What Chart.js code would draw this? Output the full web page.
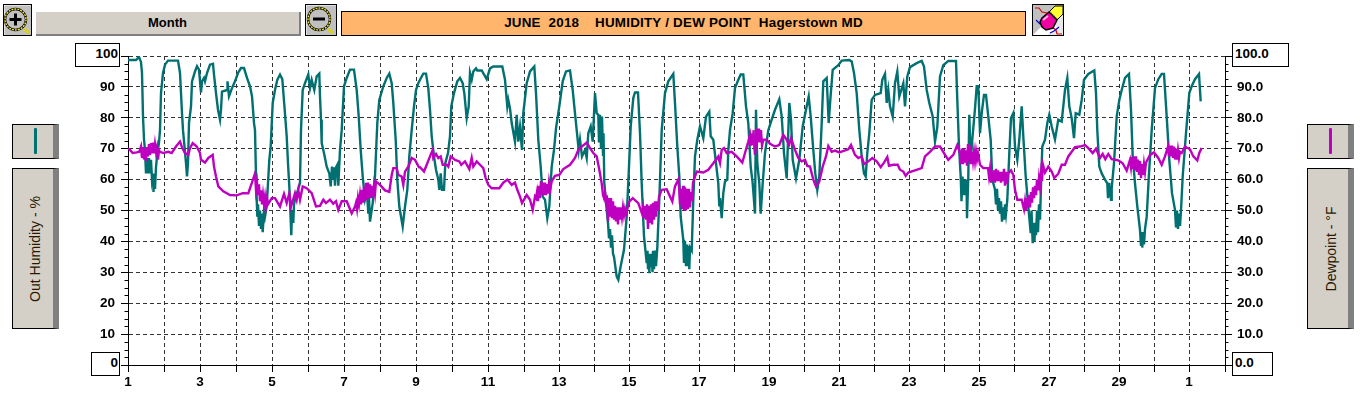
<!DOCTYPE html>
<html>
<head>
<meta charset="utf-8">
<script src="https://cdn.jsdelivr.net/npm/chart.js@4"></script>
<style>
html,body{margin:0;padding:0;background:#fff;overflow:hidden}
#wrap{position:relative;width:1365px;height:395px;font-family:"Liberation Sans",Arial,sans-serif}
canvas{position:absolute;left:0;top:0}
.box{position:absolute;box-sizing:border-box;border:1px solid #000;background:#fff;font-weight:bold;font-size:13.5px;line-height:20px;color:#000}
.btn{position:absolute;box-sizing:border-box;border:1px solid #000;background:#d4d0c8;border-right:6px solid #808080}
.bar{position:absolute;box-sizing:border-box;background:#d4d0c8;border-right:2px solid #808080;border-bottom:2px solid #808080;text-align:center;font-weight:bold;font-size:13px;line-height:22px}
.title{position:absolute;box-sizing:border-box;border:1px solid #000;background:#ffb56b;text-align:center;font-weight:bold;font-size:13.4px;letter-spacing:.22px;line-height:22px;white-space:pre}
.rot{position:absolute;font-size:14px;color:#2a1800;white-space:nowrap;transform:translate(-50%,-50%) rotate(-90deg)}
.swatch{position:absolute;width:3px;border-radius:1px}
svg.icon{position:absolute;box-sizing:border-box;border:1px solid #000;background:#c0c0c0}
</style>
</head>
<body>
<div id="wrap">
<canvas id="c" width="1365" height="395"></canvas>

<svg class="icon" style="left:3px;top:4px" width="29" height="32" viewBox="0 0 27 30">
<path d="M0 0H27M0 0V30" stroke="#fff" stroke-width="1"/>
<line x1="20" y1="24" x2="25" y2="28" stroke="#d8d020" stroke-width="3.5"/>
<circle cx="11.5" cy="14.5" r="10.5" fill="#c0c0c0" stroke="#000" stroke-width="2.4"/>
<circle cx="11.5" cy="14.5" r="10.5" fill="none" stroke="#f0e820" stroke-width="1.4" stroke-dasharray="2 1"/>
<path d="M5.5 14.5H17.5M11.5 8.5V20.5" stroke="#000" stroke-width="3"/>
</svg>
<div class="bar" style="left:36px;top:12px;width:265px;height:24px">Month</div>
<svg class="icon" style="left:305px;top:4px" width="32" height="32" viewBox="0 0 30 30">
<path d="M0 0H30M0 0V30" stroke="#fff" stroke-width="1"/>
<line x1="22" y1="24" x2="27" y2="28" stroke="#d8d020" stroke-width="3.5"/>
<circle cx="13" cy="14" r="11" fill="#c0c0c0" stroke="#000" stroke-width="2.4"/>
<circle cx="13" cy="14" r="11" fill="none" stroke="#f0e820" stroke-width="1.4" stroke-dasharray="2 1"/>
<path d="M7 14H19" stroke="#000" stroke-width="3"/>
</svg>
<div class="title" style="left:341px;top:11px;width:685px;height:25px">JUNE  2018    HUMIDITY / DEW POINT  Hagerstown MD</div>
<svg class="icon" style="left:1032px;top:4px" width="32" height="32" viewBox="0 0 30 30">
<path d="M0 30L30 0V30Z" fill="#e8e8e8"/>
<path d="M0 30L16 14L24 22L14 30Z" fill="#fff"/>
<path d="M2 3H6L9 7L14 8M18 21L23 25L24 29L29 29" stroke="#e00000" stroke-width="1.2" fill="none"/>
<path d="M3 15L7 19H10M17 28L21 26L26 22" stroke="#0000e0" stroke-width="1.2" fill="none"/>
<path d="M15 8L22 1L30 1L30 9L23 16Z" fill="#ffff30" stroke="#000" stroke-width="1"/>
<path d="M16 7L24 15" stroke="#909090" stroke-width="3" stroke-dasharray="1 1"/>
<path d="M9 13L16 7L24 15L20 23L13 25L9 22L7 17Z" fill="#f000a0" stroke="#000" stroke-width="1.5"/>
<path d="M10 15L15 11" stroke="#ffb0e0" stroke-width="2"/>
</svg>

<div class="box" style="left:75px;top:43px;width:45px;height:24px;text-align:right;padding-right:1px">100</div>
<div class="box" style="left:91px;top:352px;width:29px;height:24px;text-align:right;padding-right:1px">0</div>
<div class="box" style="left:1232px;top:43px;width:57px;height:24px;padding-left:2px">100.0</div>
<div class="box" style="left:1232px;top:352px;width:41px;height:24px;padding-left:2px">0.0</div>

<div class="btn" style="left:12px;top:124px;width:47px;height:35px"></div>
<div class="swatch" style="left:34px;top:128px;height:26px;background:#007070"></div>
<div class="btn" style="left:12px;top:168px;width:47px;height:161px"></div>
<div class="rot" style="left:35px;top:249px">Out Humidity - %</div>

<div class="btn" style="left:1307px;top:124px;width:47px;height:35px"></div>
<div class="swatch" style="left:1329px;top:128px;height:26px;background:#c000c0"></div>
<div class="btn" style="left:1307px;top:168px;width:47px;height:161px"></div>
<div class="rot" style="left:1331px;top:249px">Dewpoint - °F</div>
</div>

<script>
// x is the logger's record number; days do not span an equal number of records
const dayStartRecords = [0,36,72,108,144,180,216,252,288,324,360,396,431,466,501,536,571,606,641,676,711,746,781,816,851,886,921,956,991,1026,1061,1097];
const dayLabels = ['1','','3','','5','','7','','9','','11','','13','','15','','17','','19','','21','','23','','25','','27','','29','','1',''];
const humidityTicks = [0,10,20,30,40,50,60,70,80,90,100];
const minorTicks = [2.5,5,7.5,12.5,15,17.5,22.5,25,27.5,32.5,35,37.5,42.5,45,47.5,52.5,55,57.5,62.5,65,67.5,72.5,75,77.5,82.5,85,87.5,92.5,95,97.5];

const humidityA = [[0,98.7],[8,98.7],[11,99.7],[13,98],[14,94.5],[15,80.5],[16,73],[17,69.6],[18,62],[19,67],[20,62],[21,67],[22,62],[23,66.4],[24,60],[25,62],[25.5,56],[26,61],[27,57],[28,64],[29,67.5],[31,72],[32,76],[33,88],[35,94.5],[37,97.2],[40,98.5],[50,98.5],[52,94.5],[53,88],[54,81.5],[55,76],[58,65.3],[59,61],[60,65.3],[61,78.3],[63,83.7],[64,91.8],[67,95],[69,96.7],[71,95.6],[72,91.8],[73,88.2],[74,91.8],[76,92.9],[77,91.8],[79,94.5],[82,97.2],[85,97.5],[86,94],[88,88],[90,82.6],[92,79.4],[93,82.6],[94,88.5],[99,89],[99.5,91.8],[101,87],[104,89.6],[107,91.8],[110,94.5],[113,96.1],[116,96.1],[119,92.9],[122,90.2],[124,87],[126,78.3],[127,76],[128,61],[129.3,48],[130,52],[131,45],[132,50],[133,44],[134,49],[134.7,43],[136,50],[137,48],[138.7,51.3],[141.3,66.4],[142.7,70.7],[144.7,84.8],[147,89],[149.3,92.3],[152,94],[154.3,92.5],[156.7,82.6],[158.7,74],[160,65.3],[161.3,57.8],[162.7,47],[163.3,42],[164,50],[165.3,46],[166,52],[167,53.5],[172,58.9],[173,76],[174.7,89],[177,91.2],[180.3,94],[182,89.6],[183.7,92.3],[186.3,89],[188.7,93.4],[191.3,94.3],[192,87],[193,79.4],[193.7,71.8],[196,68.6],[198.7,64.2],[201.3,62],[202.7,57.8],[204,64.2],[205,60],[206,64],[207,58],[208,64],[209.3,64.8],[210.3,58],[212,69.6],[213.7,76],[216,90.2],[218.7,92.9],[222,95.6],[226,95.6],[228.7,89],[230.7,80.5],[232.7,69.6],[234.7,61],[237,53.5],[239,56],[240.3,49],[241,54],[242,46.4],[244.7,52.4],[247,61],[249.3,78.3],[251.3,85.8],[255.3,90.2],[258.7,92.9],[261.3,94.3],[263.7,91.2],[265.3,84.8],[267.7,72.9],[269.3,60],[271.3,51.3],[274.7,44.8],[277,51.3],[279.3,56.7],[281.3,67.5],[283.7,76],[286,83.7],[288,89],[290.3,91.2]];
const humidityB = [[292,92.3],[295.3,94.3],[298,94.3],[300.3,89.6],[302,82.6],[303.7,74],[306,67.5],[308,63.2],[310.3,60],[311.3,56.7],[312.7,62],[314,56.7],[316,56.7],[317.3,65.3],[320,68.6],[322,74],[323.3,83.7],[326,88],[329.3,91.8],[332,92.9],[334.7,91.2],[336.3,88],[338.7,79.9],[340.7,83.7],[342,94.5],[343.7,92.3],[345.3,95],[348,96],[349.3,95.3],[353.7,95.3],[358.7,92.5],[362,96],[365.3,96.6],[374.3,96.6],[377,92.3],[379.3,83.7],[380.3,85.8],[382,83],[383.7,78.3],[387,72.3],[388.7,81],[390.3,72.3],[392,77],[394,69.6],[395.3,81.5],[398.7,91.2],[402,95],[406.3,96.6],[408,88],[410.3,72.9],[412.7,64.2],[414.7,54.5],[417,53.5],[419.3,47.5],[421.3,51.3],[423.7,64.2],[426,69.6],[428,76.6],[431.3,83.7],[434.7,91.8],[438,95],[442,95.3],[444.7,89],[446.3,83.7],[448.7,76],[450.7,69.6],[452,72.9],[454,67.5],[457,69.6],[458.7,67],[460.3,75],[462.7,77.2],[464.7,72.3],[467,88],[468.7,81.5],[470.3,81],[471,72],[472,81],[473,70],[474,80.4],[475,68],[475.5,75],[476.3,58.8],[478,52.4],[480,46],[481,41],[482,44],[483,38],[484,42],[485,36],[486,35],[488.7,28.6],[490.3,27.6],[492.7,32],[496,37.3],[498.7,48],[500.7,62],[502.7,77.2],[505.3,86.4],[507,88.2],[510,88.2],[512,75],[513.7,58.8],[516,41.6],[518.7,33],[519.5,37],[520,31],[521,36],[521.3,29.7],[522,36],[523,32],[523.7,36],[524.5,30],[525,37],[526,31],[527,37],[528,32],[529.3,38],[531.3,53.5],[533.7,76],[537,88],[540.3,91.8],[545.3,94.2],[547,84.7],[549.3,70.7],[551.3,61],[552.7,48],[555.3,40.5],[556,33],[557,40],[558,32],[559,39],[560,32],[561,38.5],[561.3,31],[562,38],[563.7,37],[565.3,53.5],[567,67.5],[569.3,72.9],[572,77.2],[575.3,73.4],[578,80.4],[581.3,82],[582.7,74],[585.3,72.9],[588,65.3],[590.3,58.8],[591.3,51.3]];
const humidityC = [[592,54],[593.7,47.5],[595.3,55.6],[597,59.4],[599.3,60],[600.3,69.6],[602,76],[604.7,81.5],[607,89.6],[610.3,92.3],[612.7,94],[615.3,94],[618,83.7],[620.3,78.3],[622.7,64.2],[624.7,58.8],[627,49],[628,82.6],[629.3,65.3],[631.3,58.8],[632.7,49],[634.7,58.8],[637,68.6],[640.3,76],[643.7,79.4],[647,82.6],[651.3,86],[653.7,80.5],[656,68.6],[658.7,60.4],[661.3,84.8],[663,79.4],[664.7,66.4],[668,60.4],[671.3,66.4],[674.7,77.2],[678,82.6],[680.7,86.9],[682.7,80.4],[685.3,69.6],[687.3,62],[689.3,56.7],[691.3,61],[693.7,78.3],[695.3,91.8],[698.7,92.9],[700.7,78.3],[702.3,85.8],[704.7,95.5],[710.3,97],[713.7,98.5],[721.3,98.7],[723.7,98.2],[726,94.5],[728.7,88],[731.3,76],[733.7,67.5],[736,62],[737.7,61],[739.3,68.6],[741.3,75],[743.7,85.8],[747,87.4],[752.7,88],[754.3,92.3],[757,94.2],[758.7,84.8],[760.3,89],[762,83.7],[764.7,80.4],[767,91.2],[769.3,95],[771.3,86.9],[775.3,91.2],[777,83.7],[779.3,93.4],[782,96.4],[788.7,97.7],[793.7,98.4],[796,96.6],[798.7,89],[801.3,84.8],[804.7,80.4],[807,72.3],[809.3,77],[812,93.4],[815.3,97],[820.3,98.4],[828,98.4],[829.3,85.8],[831,70.7],[832.7,61],[833.5,53],[834.5,61],[835.5,55],[836.5,60],[837.5,55],[838.5,60],[839,47.5],[840.3,61]];
const humidityD = [[841.3,81],[842.7,65.3],[844,72],[847,83],[848.7,90.2],[850.3,90.2],[852,75],[853.7,81.5],[856,87.4],[858,87.4],[860.3,80.4],[862.7,72.9],[864.3,60],[867,56.7],[868,52],[869,57],[870,50],[871,54],[872,49],[873,53],[874,46.4],[875,51],[876,47],[877,52],[878,49],[879.3,53.5],[881.3,68.6],[883,79.9],[885.3,81.5],[887,70.7],[889.3,66.4],[891.3,72.9],[893.7,83.7],[895.3,74],[897.7,61],[900.3,51.3],[902.7,42.7],[903.5,50],[904.7,39.4],[905.5,46],[906.5,40],[907,46],[908,42],[909,50],[910,43],[911,52],[912,47],[913,58],[914.3,70.7],[917,72.9],[919.3,78.3],[921.3,81],[923.7,77.2],[927,73],[930.3,79.4],[933.7,78.8],[937,89],[939.3,92.9],[941.3,83.7],[943.7,79.9],[946,73.4],[947.7,81.5],[951.3,81],[953.7,85.8],[956,92.3],[960.3,94.2],[966.3,95.3],[968,88],[969.3,76],[971.3,64.2],[973.7,62],[977,60],[979.3,58.8],[980,54],[981,59],[981.3,54.5],[982,58],[983,53.5],[983.7,57.2],[986,65.3],[988.7,80.4],[991.3,85.8],[993.7,89],[997,92.9],[1001,94.2],[1003,82.6],[1004.7,67.5],[1007,58.8],[1009.3,51.3],[1012,43.7],[1013,38.5],[1014,43],[1014.3,38],[1015,43],[1016,39],[1017,44],[1018.7,48],[1021,62],[1023.7,76],[1027,89.6],[1030.3,92.5],[1033.7,94.2],[1036,94.2],[1038.7,80.4],[1041.3,66.4],[1044,55.6],[1047,50.2],[1048,44.5],[1049,50],[1050,44],[1051,49],[1052,45],[1053,50],[1054.7,61],[1058,75],[1061.3,88],[1063.7,90.2],[1067,92.5],[1071,94.2],[1072.7,85.3]];

const dewpointA = [[0,70],[2,69.6],[4.7,68.6],[8.7,68.8],[11.3,69],[13,70.7],[14,67],[15,70.5],[16,66.5],[17,70],[18,66],[19,70.5],[20,67.5],[21,71.5],[22,68],[23,71.8],[24,68.5],[25,72],[26,68.5],[27,71.5],[28,69],[29,70.5],[30,66.5],[31,69.5],[32,69],[35.3,68.6],[40.3,69],[43.7,68.6],[48,70.7],[52,72.3],[54.3,70.2],[57,68.6],[60.3,68],[62,70.2],[64.7,71.8],[68.7,70.7],[72,68.6],[73,66.4],[77,65.5],[80.3,67],[84.7,68],[86,64.2],[88,61],[90.3,57.8],[95.3,56.2],[102,55],[108.7,54.9],[114.7,55.6],[120.3,55.6],[123.7,58.8],[127,62],[128,56.7],[129,59],[130,55],[131,58.5],[132,53],[133,56.5],[134,52],[135,55],[136,52],[137,54.5],[138,51.5],[139,54],[140,52],[143.7,54],[147,54],[152,51.3],[156,55.4],[158.7,52.4],[161.3,55.6],[163,51.3],[167,55.6],[168.7,53.5],[170.3,56.7],[172,53.5],[174.7,57.8],[178.7,57.2],[183.7,55.6],[188,51.3],[192,51.5],[195.3,53.5],[198,52.4],[202,53.5],[205.3,52.2],[208,53],[210.3,50.2],[213.7,53],[218.7,53],[223.7,49.1],[227,51.3],[228,52.5],[229,50.5],[230,54],[231,52],[232,55],[233,52],[234,56.7],[235,52.5],[236,57.5],[237,53],[238,59],[239,53.5],[240,59],[241,54],[242,58.5],[243,54],[244,58],[245,54.5],[246,58],[247,55.5],[248,59.4],[252,58.3],[257,56.5],[261.3,56],[263.7,61.5],[265.3,63.7],[268.7,63.7],[270.3,61.5],[273.7,61],[275.3,58.3],[277,62.6],[280.3,64.2],[283.7,67],[287,66.4],[291,64]];
const dewpointB = [[292,64],[296,62.6],[299.3,65.3],[302,67.5],[304.7,69.6],[305.3,67],[308,68.3],[310.3,67],[312.7,67.5],[314.7,64.8],[318.7,64.8],[320.3,64.2],[322.7,67.5],[327,66.4],[331.3,65.9],[333.3,64.8],[337,65.9],[341.3,63.4],[343.7,67],[345.3,64.2],[348.7,65.9],[352,64.8],[355.3,63.7],[357.7,60.5],[360.3,58.3],[363.7,57.2],[371.3,57.2],[375.3,59],[379.3,60],[383.7,58.3],[387,59],[389.3,56.7],[392,54.5],[394,52.4],[398.7,55],[402,53.5],[404.7,50.2],[407,54.5],[408,54],[409,56],[410,53],[411,58],[412,54],[413,59.5],[414,55],[415,59],[416,55],[417,59],[418,55],[419,58.5],[420,55.5],[421,59],[422,56.5],[423.7,59.4],[427,61.2],[431.3,61.5],[435.3,63.4],[442,64.8],[447,67],[450.3,69.6],[453.7,70.7],[458.7,72],[462,70.2],[465.3,68.6],[468.7,67.5],[471.3,63.2],[473.7,58.8],[475,55],[476,54],[477,56],[478,53.5],[479,54],[480,46.5],[481,54],[482,48],[483,54],[484,47.5],[485,53],[486,47],[487,51.5],[488,46.5],[489,51],[490,45.5],[491,51],[492,47],[493,51],[494,48],[495,51],[496,48.5],[497,50.5],[498,49],[501.3,52.9],[504.7,54],[510.3,52.4],[512.7,50.2],[514,49],[515,51],[516,47.5],[517,51.5],[518,47],[519,52],[520,44],[521,51.5],[522,46],[523,52],[524,45.5],[525,52.5],[526,47],[527,53],[528,48],[529,53],[530,50],[531,54.5],[533.7,56.7],[538.7,56.9],[541.3,55],[544.3,52.9],[547,57.8],[550.3,60],[551,58],[552,52],[553,57],[554,50.5],[555,58],[556,50],[557,57.5],[558,50],[559,57],[560,50.5],[561,57],[562,51],[563,56],[564,53],[565,59],[566,60],[568.7,62.6],[575.3,62.3],[580.3,63.2],[585.3,65.3],[590.3,67.5],[591,66.4]];
const dewpointC = [[592,65.3],[593.7,69.6],[596,70.2],[598.7,68.6],[603.7,69],[608.7,67.5],[614.3,65.5],[617,68.6],[620.3,72.3],[622,74.5],[623,71],[624,75],[625,71.5],[625.5,76],[626,72],[627,68],[628,72],[629,76.5],[630,72],[631,76.5],[632,72],[633,76],[634,71],[635.3,72.9],[638.7,72.9],[642,71.6],[647,70.7],[651.3,71.2],[655.3,74.5],[658.7,72.9],[661,71.2],[663,73.4],[667,69.6],[670.3,67],[673.7,65.9],[677,66.4],[679.3,64.4],[682,64.2],[685.3,60],[688,57.8],[691.3,59.4],[694.7,64.2],[698,67.5],[700.3,70.9],[703.7,69],[707,69.4],[711.3,68.8],[720.3,69.8],[723,71.2],[727,68],[730.3,67],[733.7,67.5],[736,65],[740.3,65.9],[744.3,67],[748.7,65.9],[752.7,64],[756,65.5],[759.3,67.3],[761,64.5],[765.3,64.8],[769.7,64.8],[772,63.2],[775.3,62.6],[777.7,61.2],[780.3,62.3],[787,63],[793.7,63.7],[797,67.5],[802,69],[807,70.7],[812,70.7],[816,68.6],[820.3,66.4],[825.3,68],[829.3,71.2],[832,68.6],[833,65],[834,70],[835,65],[836,70],[837,65.5],[838,69.5],[839,64.5],[840,71.5],[841,66],[842,71],[843,65],[844,69],[845,66],[846,69],[847,66],[848,69],[849,66.5],[850,68.5],[852,64.8]];
const dewpointD = [[855.3,63.7],[860,63.7],[861,61],[862,63.5],[863,59],[864,63],[865,59.5],[866,63],[867,59],[868,63.5],[869,59.5],[870,63],[871,59.5],[872,62.5],[873,59],[874,62.5],[875,59.5],[876,63.5],[877,58],[878,62.5],[879,58.5],[880,62],[883,63],[885.3,61.5],[887,56.7],[889.3,53.5],[893.7,53.5],[896,50.4],[897,53],[898,50],[899,54],[900,51],[901,55],[902,51],[903,56],[904,52.5],[905,57.5],[906,54],[907,58],[908,55],[909,60],[910,56.5],[911,60.5],[912,58],[913,62],[914,59.5],[915,64.8],[917,62.3],[920.3,64.2],[923.7,62.6],[926.3,60.5],[930.3,61.9],[933.7,64.8],[937,64.8],[940.3,67.5],[943.7,69],[947,70.5],[952,70.7],[957,71.2],[960.3,70.2],[964.7,68.6],[968,70],[972,67],[974.7,68.3],[977.3,66.6],[980.3,68.3],[983.7,66.6],[990.3,66.2],[994.7,65.3],[998.7,62.9],[1002,66.4],[1003,64],[1004,67.3],[1005,63.5],[1006,67.5],[1007,63],[1008,67.5],[1009,62.5],[1010,66.5],[1011,61.5],[1012,66],[1013,60.5],[1014,65],[1015,61.5],[1016,65],[1017,62.5],[1018,65.5],[1022,68],[1026,68.8],[1030.3,67],[1033.7,64.8],[1037,67.5],[1040,70.7],[1041,67.5],[1042,71],[1043,67.5],[1044,71],[1045,67],[1046,70.7],[1047,66.5],[1048,70],[1049,66.5],[1050,69.5],[1051,67],[1052,69],[1053.7,68.6],[1057,70.7],[1062,69.8],[1065.3,67.5],[1069.3,66.2],[1071.3,68.6],[1073.7,70.2]];

const toPoints = pairs => pairs.map(p => ({x: p[0], y: p[1]}));
const humidity = toPoints([...humidityA, ...humidityB, ...humidityC, ...humidityD]);
const dewpoint = toPoints([...dewpointA, ...dewpointB, ...dewpointC, ...dewpointD]);

const tickFont = {family: '"Liberation Sans", Arial, sans-serif', size: 13.5, weight: 'bold'};

const minorTickPlugin = {
  id: 'minorTicks',
  afterDraw(chart) {
    const {ctx} = chart, y = chart.scales.y, y2 = chart.scales.y2;
    ctx.save();
    ctx.strokeStyle = '#000';
    ctx.lineWidth = 1;
    ctx.beginPath();
    for (const v of minorTicks) {
      const a = Math.round(y.getPixelForValue(v)) + 0.5;
      ctx.moveTo(y.right - 3.5, a); ctx.lineTo(y.right, a);
      const b = Math.round(y2.getPixelForValue(v)) + 0.5;
      ctx.moveTo(y2.left, b); ctx.lineTo(y2.left + 3.5, b);
    }
    ctx.stroke();
    ctx.restore();
  }
};

new Chart(document.getElementById('c'), {
  type: 'line',
  data: {
    datasets: [
      {label: 'Dewpoint - °F', data: dewpoint, yAxisID: 'y2', order: 0, borderColor: '#c000c0', borderWidth: 2.4, pointRadius: 0, tension: 0, fill: false},
      {label: 'Out Humidity - %', data: humidity, yAxisID: 'y', order: 1, borderColor: '#007070', borderWidth: 2.4, pointRadius: 0, tension: 0, fill: false}
    ]
  },
  plugins: [minorTickPlugin],
  options: {
    responsive: false,
    animation: false,
    layout: {padding: {left: 0, right: 0, top: 56, bottom: 0}},
    plugins: {legend: {display: false}, title: {display: false}, tooltip: {enabled: false}},
    scales: {
      x: {
        type: 'linear', min: 0, max: 1097,
        afterBuildTicks(s) { s.ticks = dayStartRecords.map(v => ({value: v})); },
        afterFit(s) { s.height = 30; },
        grid: {color: '#333', lineWidth: 1, tickLength: 7, tickColor: '#000', tickBorderDash: []},
        border: {display: true, color: '#000', width: 1, dash: [4, 3]},
        ticks: {
          autoSkip: false, maxRotation: 0, minRotation: 0, padding: 2, color: '#000', font: tickFont,
          callback: (v, i) => dayLabels[i]
        }
      },
      y: {
        type: 'linear', position: 'left', min: 0, max: 100,
        afterBuildTicks(s) { s.ticks = humidityTicks.map(v => ({value: v})); },
        afterFit(s) { s.width = 128; },
        grid: {color: '#333', lineWidth: 1, tickLength: 7, tickColor: '#000', tickBorderDash: []},
        border: {display: true, color: '#000', width: 1, dash: [4, 3]},
        ticks: {padding: 6, color: '#000', font: tickFont, callback: v => (v === 0 || v === 100) ? '' : String(v)}
      },
      y2: {
        type: 'linear', position: 'right', min: 0, max: 100,
        afterBuildTicks(s) { s.ticks = humidityTicks.map(v => ({value: v})); },
        afterFit(s) { s.width = 140; },
        grid: {drawOnChartArea: false, tickLength: 7, tickColor: '#000'},
        border: {display: true, color: '#000', width: 1},
        ticks: {padding: 5, color: '#000', font: tickFont, callback: v => (v === 0 || v === 100) ? '' : v.toFixed(1)}
      }
    }
  }
});
</script>
</body>
</html>
